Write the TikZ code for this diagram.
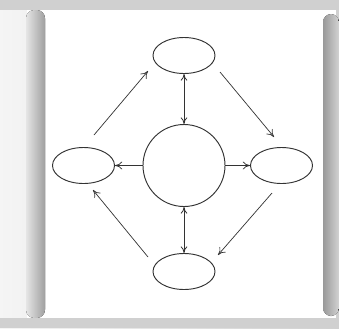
\documentclass[tikz,border=0pt]{standalone}
\usetikzlibrary{arrows.meta,shapes.geometric}
\definecolor{linegray}{HTML}{333333}
\definecolor{framegray}{HTML}{D0D0D0}
\tikzset{
  oval/.style={draw=linegray, ellipse, line width=0.8pt, minimum width=18.6mm,
               minimum height=10.8mm, inner sep=0pt},
  hub/.style={draw=linegray, circle, line width=0.8pt, minimum size=24.6mm, inner sep=0pt},
  flow/.style={-{To[length=2.2mm,width=2.4mm]}, draw=linegray, line width=0.6pt},
  twoway/.style={{To[length=2mm,width=2mm]}-{To[length=2mm,width=2mm]}, draw=linegray, line width=0.7pt},
  leftbar/.style={rounded corners=2.5mm, left color=gray!20, right color=gray!75},
  rightbar/.style={rounded corners=2.5mm, left color=gray!80, right color=gray!35},
}

\begin{document}
\begin{tikzpicture}[x=0.3mm, y=-0.3mm]
    % frame
    \fill[left color=gray!8, right color=framegray] (0,0) rectangle (339,328);
    \fill[framegray] (0,0) rectangle (339,10);
    \fill[white] (27,10) rectangle (336,318);
    \fill[leftbar] (26,10) rectangle (45,318);
    \fill[rightbar] (323,14) rectangle (339,316);
    \fill[framegray] (0,318) rectangle (339,328);

    \node[oval] (top) at (184, 55.5) {};
    \node[oval] (west) at (83.5, 165.5) {};
    \node[oval] (east) at (281.5, 165.5) {};
    \node[oval] (bottom) at (184, 271.5) {};
    \node[hub] (core) at (184, 165.5) {};

    \draw[twoway] (top) -- (core);
    \draw[twoway] (core) -- (bottom);
    \draw[flow] (core) -- (west);
    \draw[flow] (core) -- (east);

    \coordinate (w1) at (94, 135);
    \coordinate (t1) at (148, 71);
    \coordinate (t2) at (220, 72);
    \coordinate (e1) at (274, 137);
    \coordinate (e2) at (272, 193);
    \coordinate (b1) at (218, 255);
    \coordinate (b2) at (148, 257);
    \coordinate (w2) at (93, 190);
    \draw[flow] (w1) -- (t1);
    \draw[flow] (t2) -- (e1);
    \draw[flow] (e2) -- (b1);
    \draw[flow] (b2) -- (w2);
\end{tikzpicture}
\end{document}
